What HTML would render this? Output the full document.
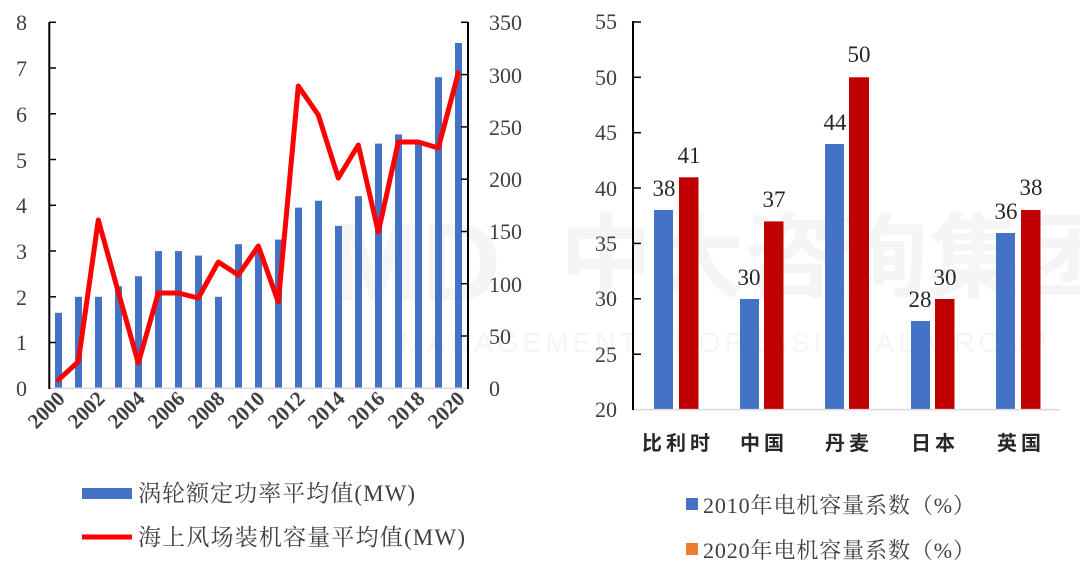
<!DOCTYPE html>
<html><head><meta charset="utf-8"><style>
body{margin:0;background:#fff;}
svg{display:block;font-family:"Liberation Serif","Noto Serif CJK SC",serif;}
</style></head><body>
<svg width="1080" height="573" viewBox="0 0 1080 573" xmlns="http://www.w3.org/2000/svg">
<!-- watermark -->
<text x="330" y="300" font-size="110" font-weight="bold" fill="#f5f5f5" font-family="Liberation Sans, sans-serif">MD</text>
<text x="560" y="290" font-size="92" font-weight="bold" fill="#f5f5f5" font-family="Noto Sans CJK SC, sans-serif">中大咨询集团</text>
<text x="400" y="352" font-size="28" fill="#f5f5f5" font-family="Liberation Sans, sans-serif" letter-spacing="4">MANAGEMENT PROFESSIONAL GROUP</text>

<!-- LEFT CHART -->
<g fill="#404040" font-size="22" text-anchor="end">
<text x="27" y="396">0</text><text x="27" y="350">1</text><text x="27" y="305">2</text><text x="27" y="259">3</text><text x="27" y="213">4</text><text x="27" y="168">5</text><text x="27" y="122">6</text><text x="27" y="76">7</text><text x="27" y="30">8</text>
</g>
<g fill="#404040" font-size="22">
<text x="489" y="396">0</text><text x="489" y="344">50</text><text x="489" y="292">100</text><text x="489" y="239">150</text><text x="489" y="187">200</text><text x="489" y="135">250</text><text x="489" y="83">300</text><text x="489" y="30">350</text>
</g>
<g fill="#4472c4">
<rect x="55" y="312.8" width="7" height="75.5"/>
<rect x="75" y="296.8" width="7" height="91.5"/>
<rect x="95" y="296.8" width="7" height="91.5"/>
<rect x="115" y="286.3" width="7" height="102"/>
<rect x="135" y="276.2" width="7" height="112.1"/>
<rect x="155" y="251.1" width="7" height="137.2"/>
<rect x="175" y="251.1" width="7" height="137.2"/>
<rect x="195" y="255.6" width="7" height="132.7"/>
<rect x="215" y="296.8" width="7" height="91.5"/>
<rect x="235" y="244.2" width="7" height="144.1"/>
<rect x="255" y="251.1" width="7" height="137.2"/>
<rect x="275" y="239.6" width="7" height="148.7"/>
<rect x="295" y="207.6" width="7" height="180.7"/>
<rect x="315" y="200.7" width="7" height="187.6"/>
<rect x="335" y="225.9" width="7" height="162.4"/>
<rect x="355" y="196.2" width="7" height="192.1"/>
<rect x="375" y="143.6" width="7" height="244.7"/>
<rect x="395" y="134.4" width="7" height="253.9"/>
<rect x="415" y="143.6" width="7" height="244.7"/>
<rect x="435" y="77.2" width="7" height="311.1"/>
<rect x="455" y="43" width="7" height="345.3"/>
</g>
<line x1="49" y1="388.3" x2="468" y2="388.3" stroke="#d9d9d9" stroke-width="1.5"/>
<g stroke="#000" stroke-width="2">
<line x1="49.3" y1="22" x2="49.3" y2="389"/>
<line x1="468" y1="22" x2="468" y2="389"/>
</g>
<g stroke="#000" stroke-width="1.5">
<line x1="49" y1="22.3" x2="56" y2="22.3"/><line x1="49" y1="68" x2="56" y2="68"/><line x1="49" y1="113.8" x2="56" y2="113.8"/><line x1="49" y1="159.5" x2="56" y2="159.5"/><line x1="49" y1="205.3" x2="56" y2="205.3"/><line x1="49" y1="251" x2="56" y2="251"/><line x1="49" y1="296.8" x2="56" y2="296.8"/><line x1="49" y1="342.5" x2="56" y2="342.5"/>
<line x1="461" y1="22.3" x2="468" y2="22.3"/><line x1="461" y1="74.6" x2="468" y2="74.6"/><line x1="461" y1="126.9" x2="468" y2="126.9"/><line x1="461" y1="179.2" x2="468" y2="179.2"/><line x1="461" y1="231.5" x2="468" y2="231.5"/><line x1="461" y1="283.7" x2="468" y2="283.7"/><line x1="461" y1="336" x2="468" y2="336"/>
</g>
<polyline fill="none" stroke="#ff0000" stroke-width="5" stroke-linejoin="round" stroke-linecap="round"
points="58.3,380 78.3,361.7 98.3,220 118.3,292 138.3,363 158.3,293 178.3,293 198.3,298 218.3,262 238.3,275 258.3,246 278.3,302 298.3,86 318.3,115 338.3,178 358.3,145 378.3,232 398.3,142 418.3,142 438.3,148 458.3,73"/>
<g fill="#404040" font-size="21" font-weight="bold" text-anchor="end">
<text transform="translate(66,400) rotate(-45)">2000</text>
<text transform="translate(106,400) rotate(-45)">2002</text>
<text transform="translate(146,400) rotate(-45)">2004</text>
<text transform="translate(186,400) rotate(-45)">2006</text>
<text transform="translate(226,400) rotate(-45)">2008</text>
<text transform="translate(266,400) rotate(-45)">2010</text>
<text transform="translate(306,400) rotate(-45)">2012</text>
<text transform="translate(346,400) rotate(-45)">2014</text>
<text transform="translate(386,400) rotate(-45)">2016</text>
<text transform="translate(426,400) rotate(-45)">2018</text>
<text transform="translate(466,400) rotate(-45)">2020</text>
</g>
<rect x="82" y="488" width="50" height="11" fill="#4472c4"/>
<text x="138" y="501" font-size="23" fill="#404040" textLength="277">涡轮额定功率平均值(MW)</text>
<line x1="82" y1="537" x2="132" y2="537" stroke="#ff0000" stroke-width="5"/>
<text x="138" y="545" font-size="23" fill="#404040" textLength="327">海上风场装机容量平均值(MW)</text>

<!-- RIGHT CHART -->
<g fill="#404040" font-size="22" text-anchor="end">
<text x="617" y="417">20</text><text x="617" y="362">25</text><text x="617" y="306">30</text><text x="617" y="251">35</text><text x="617" y="196">40</text><text x="617" y="140">45</text><text x="617" y="85">50</text><text x="617" y="29">55</text>
</g>
<g fill="#4472c4">
<rect x="654" y="210" width="19" height="199.6"/>
<rect x="740" y="299" width="19" height="110.6"/>
<rect x="825" y="144" width="19" height="265.6"/>
<rect x="911" y="321" width="19" height="88.6"/>
<rect x="996" y="233" width="19" height="176.6"/>
</g>
<g fill="#c00000">
<rect x="679" y="177.3" width="19.5" height="232.3"/>
<rect x="764" y="221.4" width="19.5" height="188.2"/>
<rect x="849" y="77.3" width="20" height="332.3"/>
<rect x="935" y="299" width="19.5" height="110.6"/>
<rect x="1021" y="210" width="19.5" height="199.6"/>
</g>
<line x1="633" y1="409.6" x2="1060" y2="409.6" stroke="#d9d9d9" stroke-width="1.5"/>
<line x1="633" y1="21" x2="633" y2="410" stroke="#000" stroke-width="2"/>
<g stroke="#000" stroke-width="1.5">
<line x1="633" y1="22" x2="641" y2="22"/><line x1="633" y1="77.3" x2="641" y2="77.3"/><line x1="633" y1="132.7" x2="641" y2="132.7"/><line x1="633" y1="188" x2="641" y2="188"/><line x1="633" y1="243.4" x2="641" y2="243.4"/><line x1="633" y1="298.8" x2="641" y2="298.8"/><line x1="633" y1="354.2" x2="641" y2="354.2"/>
</g>
<g fill="#262626" font-size="23" text-anchor="middle">
<text x="664" y="196">38</text><text x="689" y="163">41</text>
<text x="749" y="285">30</text><text x="774" y="207">37</text>
<text x="835" y="130">44</text><text x="859" y="62">50</text>
<text x="920" y="307">28</text><text x="945" y="285">30</text>
<text x="1006" y="219">36</text><text x="1031" y="195">38</text>
</g>
<g fill="#262626" font-size="20" font-weight="bold" text-anchor="middle" font-family="Noto Sans CJK SC, sans-serif" letter-spacing="4">
<text x="678" y="450">比利时</text>
<text x="764" y="450">中国</text>
<text x="849" y="450">丹麦</text>
<text x="935" y="450">日本</text>
<text x="1021" y="450">英国</text>
</g>
<rect x="686" y="498" width="12" height="12" fill="#4472c4"/>
<text x="703" y="513" font-size="22" fill="#404040" textLength="272">2010年电机容量系数（%）</text>
<rect x="686" y="543" width="12" height="12" fill="#ed7d31"/>
<text x="703" y="558" font-size="22" fill="#404040" textLength="272">2020年电机容量系数（%）</text>
</svg>
</body></html>
